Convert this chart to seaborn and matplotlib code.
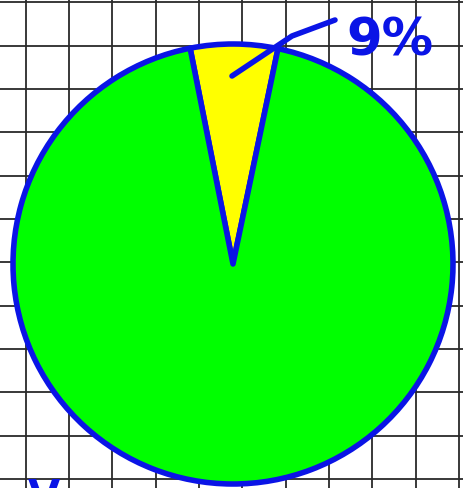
import matplotlib
matplotlib.use("Agg")
import matplotlib.pyplot as plt
import seaborn as sns

# slice sizes as drawn (the wedge looks narrower than its label says)
slices = ["small", "rest"]
sizes = [6.4, 93.6]
slice_colors = ["#ffff00", "#00ff00"]
label_text = "9%"

outline_blue = "#0a14e6"

sns.set_theme(style="white")

fig = plt.figure(figsize=(4.64, 4.88), dpi=100)
ax = fig.add_axes([0, 0, 1, 1])

# squared paper behind the pie
grid_x = [25.7 + 43.33 * k for k in range(11)]
grid_y = [485.7 - 43.33 * k for k in range(12)]
for gx in grid_x:
    ax.axvline(gx, color="#2a2a2a", lw=1.3, zorder=0)
for gy in grid_y:
    ax.axhline(gy, color="#2a2a2a", lw=1.3, zorder=0)

ax.pie(sizes, colors=slice_colors, startangle=78.2, counterclock=True,
       center=(233, 224), radius=220, frame=True,
       wedgeprops=dict(edgecolor=outline_blue, linewidth=4, joinstyle="round"))
ax.set_xlim(0, 464)
ax.set_ylim(0, 488)
ax.set_aspect("auto")
ax.set_xticks([])
ax.set_yticks([])
for s in ax.spines.values():
    s.set_visible(False)

# leader line to the label
ax.plot([232, 262, 292, 335], [412, 432, 452, 468], color=outline_blue,
        lw=4, solid_capstyle="round", zorder=5)
ax.text(390, 446, label_text, color=outline_blue, fontsize=37,
        fontweight="bold", ha="center", va="center", family="DejaVu Sans",
        zorder=6)

# letter cut off by the bottom edge, as in the original
ax.text(44, 11, "V", color=outline_blue, fontsize=30, fontweight="bold",
        ha="center", va="top", clip_on=False, zorder=6)

fig.savefig("out.png", dpi=100)
